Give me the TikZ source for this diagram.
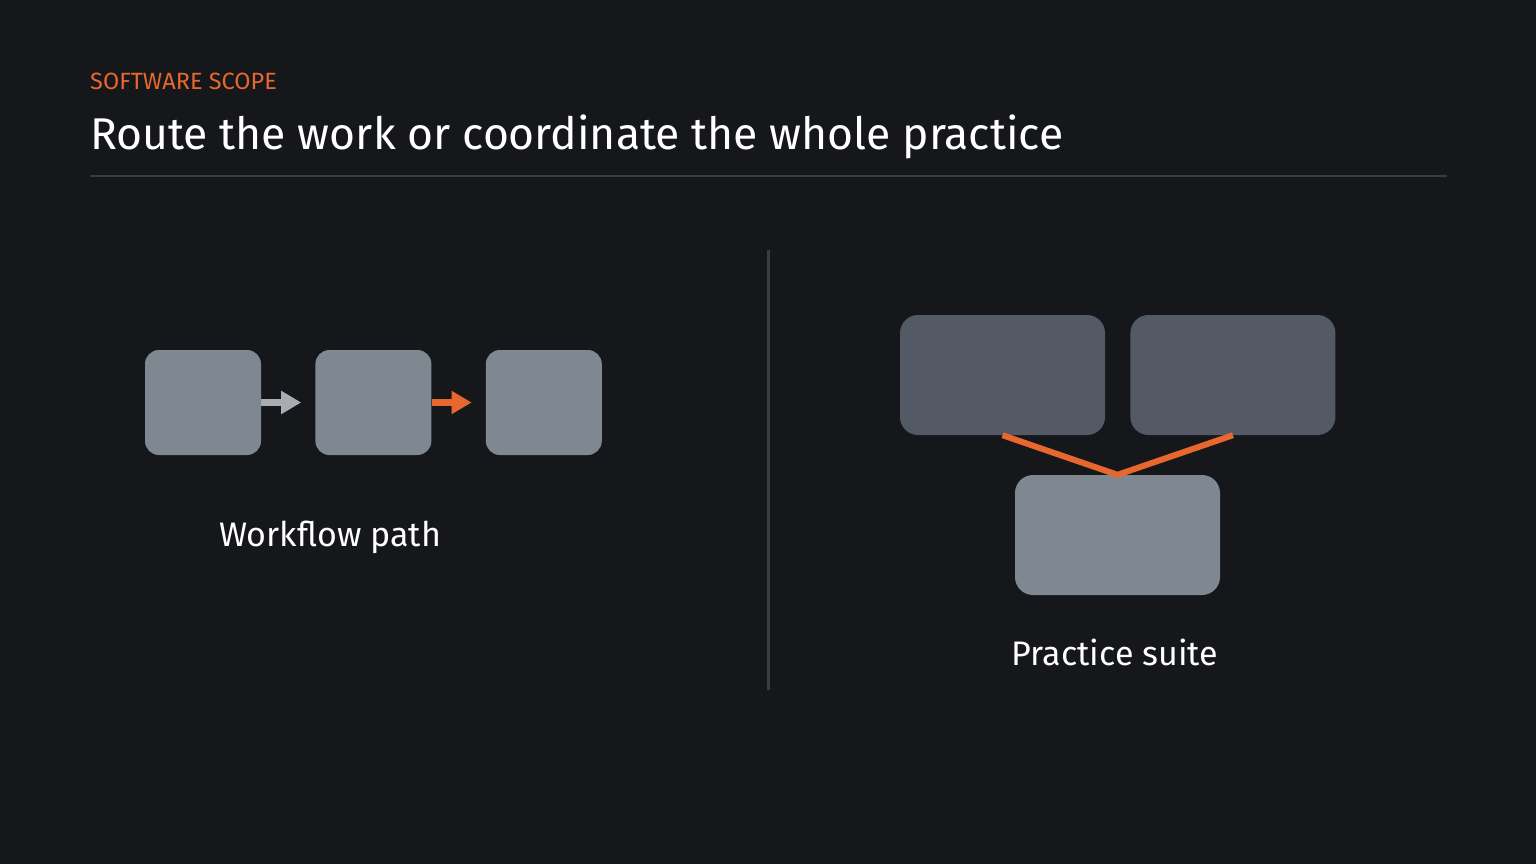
\documentclass[tikz,border=0pt]{standalone}
\usepackage{fontspec}
\setmainfont{Fira Sans}
\usetikzlibrary{arrows.meta,positioning}
\definecolor{bg}{HTML}{16171B}
\definecolor{boxlight}{HTML}{7F8891}
\definecolor{boxdark}{HTML}{535A65}
\definecolor{accent}{HTML}{E8672F}
\definecolor{flowgrey}{HTML}{A8ADB3}
\definecolor{rulegrey}{HTML}{3A3C40}
\begin{document}
\begin{tikzpicture}[x=1pt,y=-1pt,
    stage/.style={rectangle, fill=boxlight, rounded corners=14pt, minimum width=116pt, minimum height=105pt, inner sep=0pt},
    module/.style={rectangle, fill=#1, rounded corners=18pt, minimum width=205pt, minimum height=120pt, inner sep=0pt},
    flow/.style={draw=#1, line width=7pt, -{Triangle[length=20pt,width=22pt]}, shorten >=14pt},
    link/.style={draw=accent, line width=6pt},
    caption/.style={text=white, font=\fontsize{34}{40}\selectfont}]
    \fill[bg] (0,0) rectangle (1536,864);
    \node[anchor=west, text=accent, font=\fontsize{23.5}{28}\selectfont, inner sep=0pt] (kicker) at (90,81) {SOFTWARE SCOPE};
    \node[anchor=west, text=white, font=\fontsize{44.5}{52}\selectfont, inner sep=0pt] (title) at (90,137) {Route the work or coordinate the whole practice};
    \draw[rulegrey, line width=1.5pt] (90,176) -- (1447,176);
    \draw[rulegrey, line width=3pt] (768,250) -- (768,690);

    % workflow path
    \node (s1) [stage] at (203,402.5) {};
    \node (s2) [stage, right=54pt of s1] {};
    \node (s3) [stage, right=54pt of s2] {};
    \draw [flow=flowgrey] (s1) -- (s2);
    \draw [flow=accent] (s2) -- (s3);
    \node (wlabel) [caption] at (330,537) {Workflow path};

    % practice suite
    \node (m1) [module=boxdark] at (1002.5,375) {};
    \node (m2) [module=boxdark, right=25pt of m1] {};
    \node (core) [module=boxlight] at (1117.5,535) {};
    \draw [link] (m1.south) -- (core.north) -- (m2.south);
    \node (plabel) [caption] at (1115,652) {Practice suite};
\end{tikzpicture}
\end{document}
